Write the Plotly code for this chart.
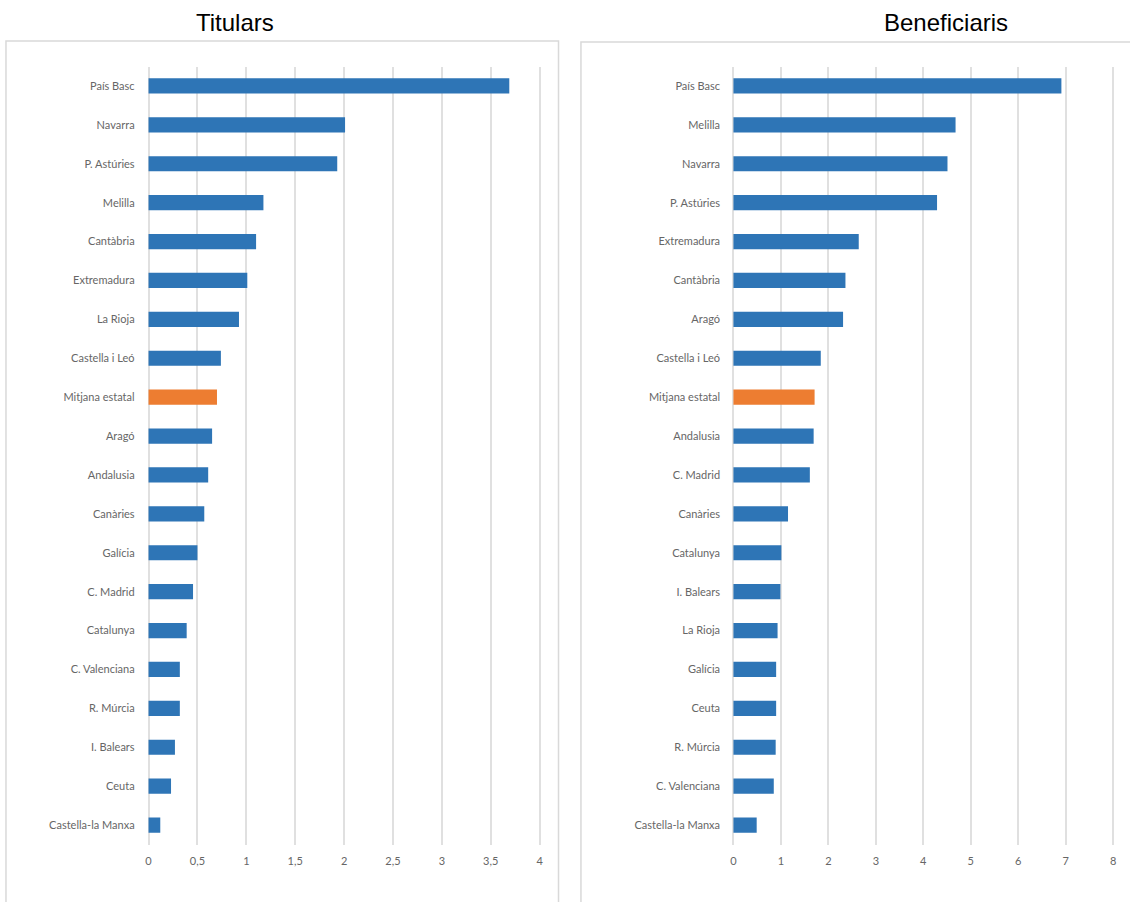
import plotly.graph_objects as go

# ---- data ----
tit_regions = ["País Basc", "Navarra", "P. Astúries", "Melilla", "Cantàbria", "Extremadura",
               "La Rioja", "Castella i Leó", "Mitjana estatal", "Aragó", "Andalusia", "Canàries",
               "Galícia", "C. Madrid", "Catalunya", "C. Valenciana", "R. Múrcia", "I. Balears",
               "Ceuta", "Castella-la Manxa"]
tit_values = [3.69, 2.01, 1.93, 1.175, 1.10, 1.01, 0.925, 0.74, 0.70, 0.65, 0.61, 0.57,
              0.50, 0.455, 0.39, 0.32, 0.32, 0.27, 0.23, 0.12]

ben_regions = ["País Basc", "Melilla", "Navarra", "P. Astúries", "Extremadura", "Cantàbria",
               "Aragó", "Castella i Leó", "Mitjana estatal", "Andalusia", "C. Madrid", "Canàries",
               "Catalunya", "I. Balears", "La Rioja", "Galícia", "Ceuta", "R. Múrcia",
               "C. Valenciana", "Castella-la Manxa"]
ben_values = [6.91, 4.68, 4.51, 4.29, 2.64, 2.36, 2.31, 1.84, 1.71, 1.69, 1.61, 1.15,
              1.01, 0.99, 0.93, 0.90, 0.90, 0.89, 0.85, 0.49]

highlight = "Mitjana estatal"
BLUE = "#2E75B6"
ORANGE = "#ED7D31"

W, H = 1130, 902


def colors(regions):
    return [ORANGE if r == highlight else BLUE for r in regions]


fig = go.Figure()
fig.add_trace(go.Bar(x=tit_values, y=tit_regions, orientation="h", width=0.39,
                     marker=dict(color=colors(tit_regions), line=dict(width=0)),
                     xaxis="x", yaxis="y", showlegend=False))
fig.add_trace(go.Bar(x=ben_values, y=ben_regions, orientation="h", width=0.39,
                     marker=dict(color=colors(ben_regions), line=dict(width=0)),
                     xaxis="x2", yaxis="y2", showlegend=False))

tick_font = dict(family="Lato, Calibri, sans-serif", size=11, color="#666666")
ydom = [1 - 844.5 / H, 1 - 66.5 / H]

common_x = dict(showgrid=True, gridcolor="#E0E0E0", gridwidth=1.6, zeroline=False,
                showline=False, ticks="", tickfont=tick_font, ticklabelstandoff=8, fixedrange=True)
common_y = dict(showgrid=False, zeroline=False, showline=False, ticks="", tickfont=tick_font,
                type="category", ticklabelstandoff=10, range=[19.5, -0.5], fixedrange=True)

fig.update_layout(
    width=W, height=H,
    margin=dict(l=0, r=0, t=0, b=0),
    paper_bgcolor="white", plot_bgcolor="white",
    separators=",.",
    xaxis=dict(domain=[145 / W, 542 / W], range=[-0.03, 4.02], tick0=0, dtick=0.5,
               anchor="y", **common_x),
    yaxis=dict(domain=ydom, anchor="x", **common_y),
    xaxis2=dict(domain=[732 / W, 1117 / W], range=[-0.05, 8.04], tick0=0, dtick=1,
                anchor="y2", **common_x),
    yaxis2=dict(domain=ydom, anchor="x2", **common_y),
    shapes=[
        dict(type="rect", xref="paper", yref="paper", x0=5 / W, x1=559 / W,
             y0=-0.02, y1=1 - 41 / H, line=dict(color="#D9D9D9", width=1.5), layer="below"),
        dict(type="rect", xref="paper", yref="paper", x0=581.5 / W, x1=1.02,
             y0=-0.02, y1=1 - 42 / H, line=dict(color="#D9D9D9", width=1.5), layer="below"),
    ],
    annotations=[
        dict(text="Titulars", xref="paper", yref="paper", x=235 / W, y=1 - 22 / H,
             showarrow=False, xanchor="center", yanchor="middle",
             font=dict(family="Liberation Sans, Arial, sans-serif", size=24, color="black")),
        dict(text="Beneficiaris", xref="paper", yref="paper", x=948 / W, y=1 - 22 / H,
             showarrow=False, xanchor="center", yanchor="middle",
             font=dict(family="Liberation Sans, Arial, sans-serif", size=24, color="black")),
    ],
)

fig.write_html("out.html")
